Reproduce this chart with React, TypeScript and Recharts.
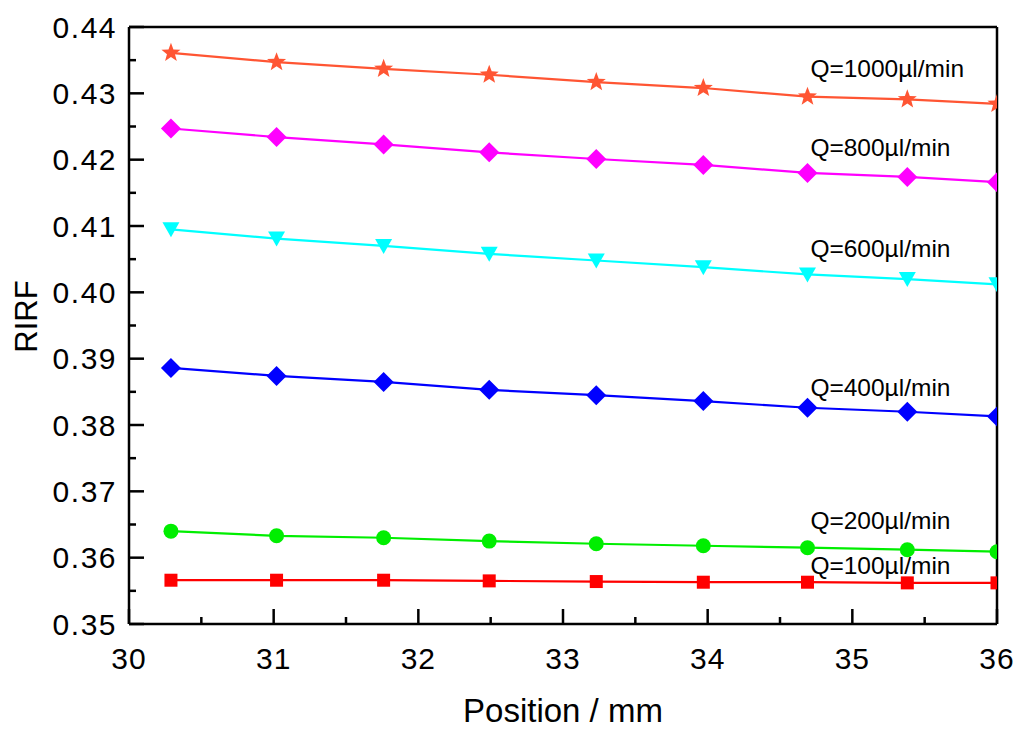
import React from "react";
import { LineChart, Line, XAxis, YAxis, ReferenceLine, ReferenceDot } from "recharts";

// positions along the channel (mm)
const positions = [30.29, 31.02, 31.76, 32.49, 33.23, 33.97, 34.69, 35.38, 36.0];

// RIRF per flow rate
const q1000 = [0.4361, 0.4347, 0.4337, 0.4328, 0.4317, 0.4308, 0.4295, 0.4291, 0.4284];
const q800 = [0.4247, 0.4234, 0.4223, 0.4211, 0.4201, 0.4192, 0.4180, 0.4174, 0.4166];
const q600 = [0.4095, 0.4081, 0.4070, 0.4058, 0.4048, 0.4038, 0.4027, 0.4020, 0.4012];
const q400 = [0.3886, 0.3874, 0.3865, 0.3853, 0.3845, 0.3836, 0.3826, 0.3820, 0.3813];
const q200 = [0.3640, 0.3633, 0.3630, 0.3625, 0.3621, 0.3618, 0.3615, 0.3612, 0.3609];
const q100 = [0.3566, 0.3566, 0.3566, 0.3565, 0.3564, 0.3563, 0.3563, 0.3562, 0.3562];

const xTicks = [30, 30.5, 31, 31.5, 32, 32.5, 33, 33.5, 34, 34.5, 35, 35.5, 36];
const yTicks = [
  0.35, 0.355, 0.36, 0.365, 0.37, 0.375, 0.38, 0.385, 0.39, 0.395,
  0.4, 0.405, 0.41, 0.415, 0.42, 0.425, 0.43, 0.435, 0.44,
];

const labelX = 34.71;
const seriesLabels = [
  { text: "Q=1000\u00b5l/min", y: 0.4338 },
  { text: "Q=800\u00b5l/min", y: 0.4219 },
  { text: "Q=600\u00b5l/min", y: 0.4067 },
  { text: "Q=400\u00b5l/min", y: 0.3857 },
  { text: "Q=200\u00b5l/min", y: 0.3656 },
  { text: "Q=100\u00b5l/min", y: 0.3589 },
];

const data = positions.map((x, i) => ({
  x,
  q1000: q1000[i],
  q800: q800[i],
  q600: q600[i],
  q400: q400[i],
  q200: q200[i],
  q100: q100[i],
}));

const makeDot = (shape: string, color: string) => (props: any) => {
  const { cx, cy, key } = props;
  if (cx == null || cy == null) return <g key={key} />;
  if (shape === "star") {
    const pts: string[] = [];
    for (let k = 0; k < 10; k++) {
      const r = k % 2 === 0 ? 10 : 4.2;
      const a = -Math.PI / 2 + (k * Math.PI) / 5;
      pts.push(`${cx + r * Math.cos(a)},${cy + r * Math.sin(a)}`);
    }
    return <polygon key={key} points={pts.join(" ")} fill={color} />;
  }
  if (shape === "diamond") {
    const d = 10;
    return (
      <polygon
        key={key}
        points={`${cx},${cy - d} ${cx + d},${cy} ${cx},${cy + d} ${cx - d},${cy}`}
        fill={color}
      />
    );
  }
  if (shape === "triangle") {
    return (
      <polygon
        key={key}
        points={`${cx - 8.5},${cy - 7} ${cx + 8.5},${cy - 7} ${cx},${cy + 8}`}
        fill={color}
      />
    );
  }
  if (shape === "circle") {
    return <circle key={key} cx={cx} cy={cy} r={7.5} fill={color} />;
  }
  return <rect key={key} x={cx - 6.5} y={cy - 6.5} width={13} height={13} fill={color} />;
};

const XTick = (props: any) => {
  const { x, y, payload } = props;
  const v = payload.value;
  const major = Number.isInteger(v);
  return (
    <g>
      <line x1={x} y1={y} x2={x} y2={y - (major ? 15 : 7)} stroke="#000" strokeWidth={2.5} />
      {major && (
        <text x={x} y={y + 34} textAnchor="middle" dominantBaseline="central" fontSize={30} letterSpacing={1} fill="#000">
          {v}
        </text>
      )}
    </g>
  );
};

const YTick = (props: any) => {
  const { x, y, payload } = props;
  const v = payload.value;
  const major = Math.abs(v * 100 - Math.round(v * 100)) < 1e-6;
  return (
    <g>
      <line x1={x} y1={y} x2={x + (major ? 15 : 7)} y2={y} stroke="#000" strokeWidth={2.5} />
      {major && (
        <text x={x - 12} y={y} textAnchor="end" dominantBaseline="central" fontSize={30} letterSpacing={1.5} fill="#000">
          {v.toFixed(2)}
        </text>
      )}
    </g>
  );
};

export default function App() {
  return (
    <div
      style={{
        position: "absolute",
        left: 0,
        top: 0,
        width: 1024,
        height: 733,
        background: "#fff",
        fontFamily: "'Liberation Sans', Arial, sans-serif",
      }}
    >
      <LineChart width={1024} height={733} data={data} margin={{ top: 27, right: 27, bottom: 0, left: 0 }}>
        <XAxis
          dataKey="x"
          type="number"
          domain={[30, 36]}
          allowDataOverflow
          ticks={xTicks}
          interval={0}
          tickSize={0}
          tickMargin={0}
          tick={<XTick />}
          height={109}
          axisLine={{ stroke: "#000", strokeWidth: 2.5 }}
          label={{
            content: (p: any) => (
              <text
                x={p.viewBox.x + p.viewBox.width / 2}
                y={p.viewBox.y + 98}
                textAnchor="middle"
                fontSize={33}
                fill="#000"
              >
                Position / mm
              </text>
            ),
          }}
        />
        <YAxis
          type="number"
          domain={[0.35, 0.44]}
          allowDataOverflow
          ticks={yTicks}
          interval={0}
          tickSize={0}
          tickMargin={0}
          tick={<YTick />}
          width={129}
          axisLine={{ stroke: "#000", strokeWidth: 2.5 }}
          label={{
            content: (p: any) => {
              const cx = 26;
              const cy = p.viewBox.y + p.viewBox.height / 2 - 9;
              return (
                <text
                  x={cx}
                  y={cy}
                  textAnchor="middle"
                  dominantBaseline="central"
                  fontSize={31}
                  fill="#000"
                  transform={`rotate(-90 ${cx} ${cy})`}
                >
                  RIRF
                </text>
              );
            },
          }}
        />
        <ReferenceLine y={0.44} stroke="#000" strokeWidth={2.5} />
        <ReferenceLine x={36} stroke="#000" strokeWidth={2.5} />

        <Line dataKey="q100" stroke="#ff0000" strokeWidth={2.2} dot={makeDot("square", "#ff0000")} isAnimationActive={false} />
        <Line dataKey="q200" stroke="#00ee00" strokeWidth={2.2} dot={makeDot("circle", "#00ee00")} isAnimationActive={false} />
        <Line dataKey="q400" stroke="#0000ff" strokeWidth={2.2} dot={makeDot("diamond", "#0000ff")} isAnimationActive={false} />
        <Line dataKey="q600" stroke="#00ffff" strokeWidth={2.2} dot={makeDot("triangle", "#00ffff")} isAnimationActive={false} />
        <Line dataKey="q800" stroke="#ff00ff" strokeWidth={2.2} dot={makeDot("diamond", "#ff00ff")} isAnimationActive={false} />
        <Line dataKey="q1000" stroke="#ff5533" strokeWidth={2.2} dot={makeDot("star", "#ff5533")} isAnimationActive={false} />

        {seriesLabels.map((l) => (
          <ReferenceDot
            key={l.text}
            x={labelX}
            y={l.y}
            r={0}
            fill="none"
            stroke="none"
            label={{ value: l.text, position: "right", offset: 0, fontSize: 24.5, fill: "#000" }}
          />
        ))}
      </LineChart>
    </div>
  );
}
